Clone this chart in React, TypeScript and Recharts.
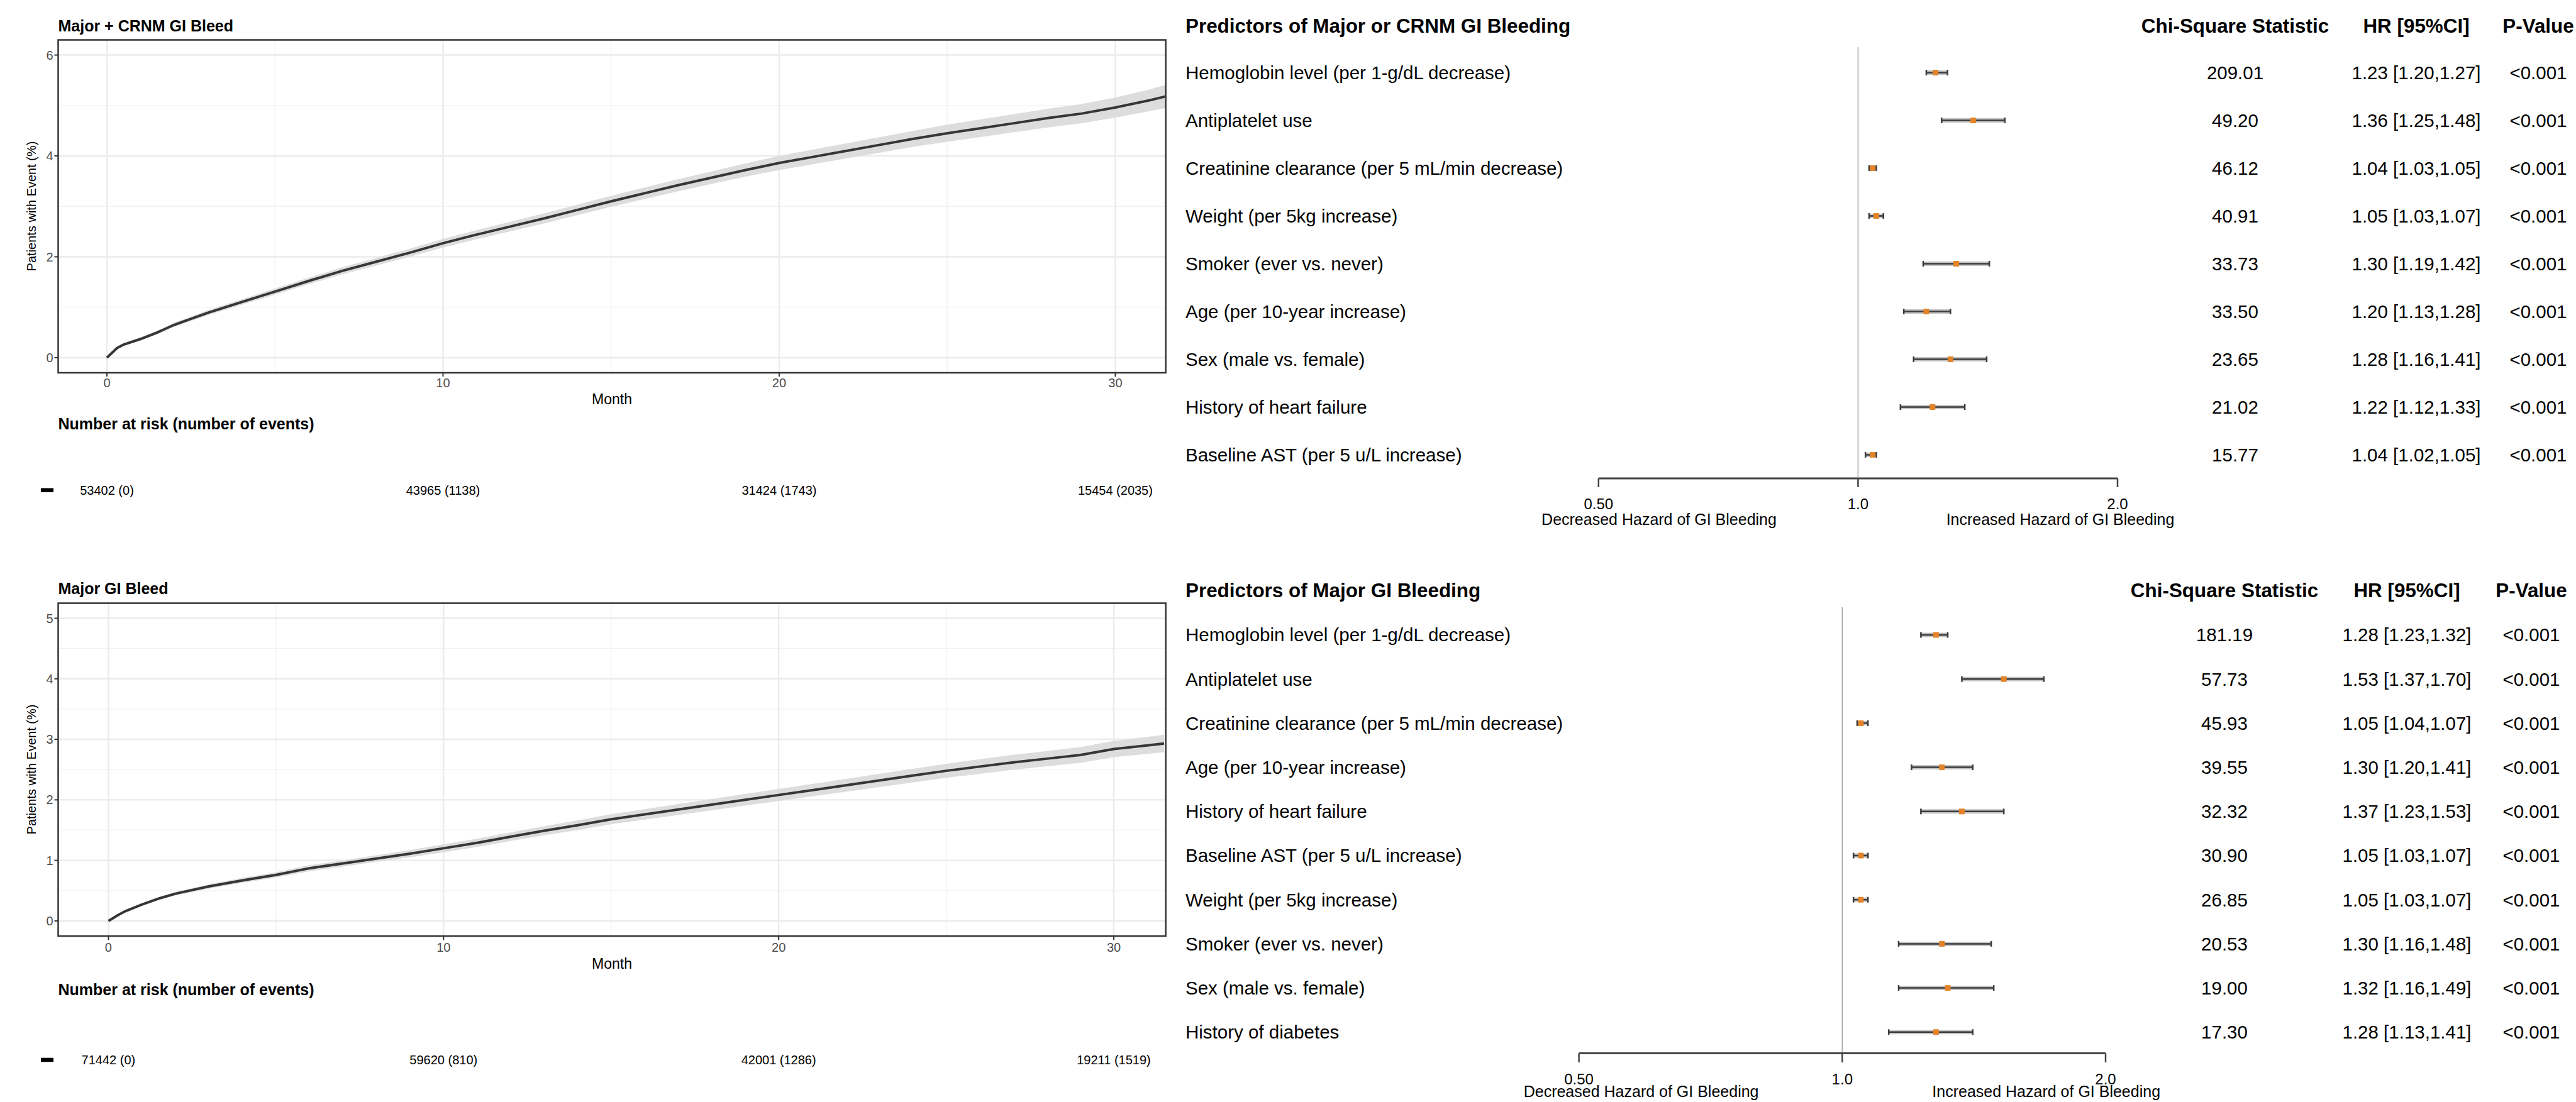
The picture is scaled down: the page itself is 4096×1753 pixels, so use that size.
import React from "react";
import {
  ComposedChart,
  Area,
  Line,
  XAxis,
  YAxis,
  CartesianGrid,
  ReferenceArea,
  ScatterChart,
  Scatter,
  ErrorBar,
  ReferenceLine,
} from "recharts";

const FONT = '"Liberation Sans", Arial, Helvetica, sans-serif';
const W = 4096;
const H = 1753;

// cumulative incidence curves (%)
const months = [
  0, 0.3, 0.5, 1, 1.5, 2, 3, 4, 5, 6, 7, 8, 9, 10, 11, 12, 13, 14, 15, 16, 17,
  18, 19, 20, 21, 22, 23, 24, 25, 26, 27, 28, 29, 30, 31, 31.5,
];
const crnmIncidence = [
  0, 0.19, 0.26, 0.37, 0.5, 0.65, 0.89, 1.1, 1.31, 1.52, 1.72, 1.9, 2.08, 2.27,
  2.44, 2.6, 2.76, 2.93, 3.1, 3.26, 3.42, 3.57, 3.72, 3.86, 3.98, 4.1, 4.22,
  4.34, 4.45, 4.55, 4.65, 4.75, 4.84, 4.96, 5.1, 5.18,
];
const crnmCiHalf = [
  0, 0.02, 0.025, 0.03, 0.035, 0.04, 0.05, 0.055, 0.06, 0.065, 0.07, 0.075,
  0.08, 0.085, 0.09, 0.095, 0.1, 0.105, 0.11, 0.115, 0.12, 0.125, 0.13, 0.14,
  0.145, 0.15, 0.155, 0.16, 0.17, 0.175, 0.18, 0.185, 0.19, 0.2, 0.215, 0.23,
];
const majorIncidence = [
  0, 0.1, 0.16, 0.27, 0.37, 0.45, 0.57, 0.67, 0.76, 0.87, 0.95, 1.03, 1.11, 1.2,
  1.29, 1.39, 1.49, 1.58, 1.68, 1.76, 1.84, 1.92, 2.0, 2.08, 2.16, 2.24, 2.32,
  2.4, 2.48, 2.55, 2.62, 2.68, 2.74, 2.84, 2.9, 2.93,
];
const majorCiHalf = [
  0, 0.01, 0.015, 0.02, 0.025, 0.03, 0.035, 0.04, 0.045, 0.05, 0.052, 0.055,
  0.06, 0.065, 0.068, 0.07, 0.075, 0.08, 0.083, 0.086, 0.09, 0.093, 0.096, 0.1,
  0.103, 0.106, 0.11, 0.113, 0.116, 0.12, 0.123, 0.126, 0.13, 0.135, 0.14, 0.145,
];

const monthTicks = [0, 10, 20, 30];
const monthMinor = [5, 15, 25];
const crnmRisk = ["53402 (0)", "43965 (1138)", "31424 (1743)", "15454 (2035)"];
const majorRisk = ["71442 (0)", "59620 (810)", "42001 (1286)", "19211 (1519)"];

// forest plot rows
const crnmLabels = [
  "Hemoglobin level (per 1-g/dL decrease)",
  "Antiplatelet use",
  "Creatinine clearance (per 5 mL/min decrease)",
  "Weight (per 5kg increase)",
  "Smoker (ever vs. never)",
  "Age (per 10-year increase)",
  "Sex (male vs. female)",
  "History of heart failure",
  "Baseline AST (per 5 u/L increase)",
];
const crnmChi = [209.01, 49.2, 46.12, 40.91, 33.73, 33.5, 23.65, 21.02, 15.77];
const crnmHr = [1.23, 1.36, 1.04, 1.05, 1.3, 1.2, 1.28, 1.22, 1.04];
const crnmLo = [1.2, 1.25, 1.03, 1.03, 1.19, 1.13, 1.16, 1.12, 1.02];
const crnmHi = [1.27, 1.48, 1.05, 1.07, 1.42, 1.28, 1.41, 1.33, 1.05];

const majorLabels = [
  "Hemoglobin level (per 1-g/dL decrease)",
  "Antiplatelet use",
  "Creatinine clearance (per 5 mL/min decrease)",
  "Age (per 10-year increase)",
  "History of heart failure",
  "Baseline AST (per 5 u/L increase)",
  "Weight (per 5kg increase)",
  "Smoker (ever vs. never)",
  "Sex (male vs. female)",
  "History of diabetes",
];
const majorChi = [181.19, 57.73, 45.93, 39.55, 32.32, 30.9, 26.85, 20.53, 19.0, 17.3];
const majorHr = [1.28, 1.53, 1.05, 1.3, 1.37, 1.05, 1.05, 1.3, 1.32, 1.28];
const majorLo = [1.23, 1.37, 1.04, 1.2, 1.23, 1.03, 1.03, 1.16, 1.16, 1.13];
const majorHi = [1.32, 1.7, 1.07, 1.41, 1.53, 1.07, 1.07, 1.48, 1.49, 1.41];

const hrTicks = [0.5, 1, 2];

function KmPanel({ incidence, ciHalf, risk, top, height, marginTop, xHeight, riskOffset, yDomain, yMajor, yMinor, xDomain, tickMargin }: any) {
  const data = months.map((m, i) => ({
    month: m,
    inc: incidence[i],
    band: [incidence[i] - ciHalf[i], incidence[i] + ciHalf[i]],
  }));
  // month tick label, plus the number-at-risk entry under the same tick
  const MonthTick = (p: any) => {
    const v = p.payload.value;
    return (
      <g>
        <text x={p.x} y={p.y} dy="0.71em" textAnchor="middle" fontSize={20} fontFamily={FONT} fill="#4d4d4d">
          {v}
        </text>
        <text x={p.x} y={p.y + riskOffset} dy="0.35em" textAnchor="middle" fontSize={20} fontFamily={FONT} fill="#000">
          {risk[monthTicks.indexOf(v)]}
        </text>
      </g>
    );
  };
  return (
    <div style={{ position: "absolute", left: 0, top, width: 1900, height }}>
      <ComposedChart
        width={1900}
        height={height}
        data={data}
        margin={{ top: marginTop, right: 46.4, bottom: 0, left: 0 }}
      >
        <CartesianGrid horizontalValues={yMinor} verticalValues={monthMinor} stroke="#f2f2f2" strokeWidth={1.3} />
        <CartesianGrid horizontalValues={yMajor} verticalValues={monthTicks} stroke="#ebebeb" strokeWidth={2.4} />
        <XAxis
          type="number"
          dataKey="month"
          domain={xDomain}
          allowDataOverflow
          ticks={monthTicks}
          interval={0}
          height={xHeight}
          tickSize={6}
          tickMargin={tickMargin}
          axisLine={false}
          tickLine={{ stroke: "#333", strokeWidth: 2 }}
          tick={MonthTick}
        />
        <YAxis
          type="number"
          domain={yDomain}
          allowDataOverflow
          ticks={yMajor}
          interval={0}
          width={92.5}
          tickSize={6}
          tickMargin={2}
          axisLine={false}
          tickLine={{ stroke: "#333", strokeWidth: 2 }}
          tick={{ fill: "#4d4d4d", fontSize: 20, fontFamily: FONT }}
        />
        <Area type="linear" dataKey="band" stroke="none" fill="#dddddd" fillOpacity={1} isAnimationActive={false} />
        <Line type="linear" dataKey="inc" stroke="#363636" strokeWidth={4} dot={false} isAnimationActive={false} />
        <ReferenceArea
          x1={xDomain[0]}
          x2={xDomain[1]}
          y1={yDomain[0]}
          y2={yDomain[1]}
          fill="none"
          stroke="#333"
          strokeWidth={2.5}
          ifOverflow="visible"
        />
      </ComposedChart>
    </div>
  );
}

const Square = (p: any) => (
  <rect x={p.cx - 4.5} y={p.cy - 4.5} width={9} height={9} fill="#E3842A" />
);

function ForestPanel({ labels, chi, hr, lo, hi, top, height, plotTop, axisY, rowDomain, xLeft, xRight, cols, tickSize, tickMargin }: any) {
  const data = labels.map((_: string, i: number) => ({
    row: i,
    hr: hr[i],
    err: [hr[i] - lo[i], hi[i] - hr[i]],
  }));
  const rowTicks = labels.map((_: string, i: number) => i);
  const RowTick = (p: any) => {
    const i = p.payload.value;
    const common = { y: p.y, dy: "0.35em", fontSize: 29.5, fontFamily: FONT, fill: "#000" };
    return (
      <g>
        <text x={1885} textAnchor="start" {...common}>{labels[i]}</text>
        <text x={cols[0]} textAnchor="middle" {...common}>{chi[i].toFixed(2)}</text>
        <text x={cols[1]} textAnchor="middle" {...common}>
          {`${hr[i].toFixed(2)} [${lo[i].toFixed(2)},${hi[i].toFixed(2)}]`}
        </text>
        <text x={cols[2]} textAnchor="middle" {...common}>{"<0.001"}</text>
      </g>
    );
  };
  return (
    <div style={{ position: "absolute", left: 0, top, width: W, height }}>
      <ScatterChart
        width={W}
        height={height}
        margin={{ top: plotTop - top, right: W - xRight, bottom: 0, left: 0 }}
      >
        <XAxis
          type="number"
          dataKey="hr"
          scale="log"
          domain={[0.5, 2]}
          allowDataOverflow
          ticks={hrTicks}
          interval={0}
          height={top + height - axisY}
          tickSize={tickSize}
          tickMargin={tickMargin}
          axisLine={{ stroke: "#444", strokeWidth: 3 }}
          tickLine={{ stroke: "#444", strokeWidth: 2.5 }}
          tick={{ fill: "#000", fontSize: 24, fontFamily: FONT }}
          tickFormatter={(v: number) => (v === 0.5 ? "0.50" : v.toFixed(1))}
        />
        <YAxis
          type="number"
          dataKey="row"
          domain={rowDomain}
          reversed
          allowDataOverflow
          ticks={rowTicks}
          interval={0}
          width={xLeft}
          axisLine={false}
          tickLine={false}
          tick={RowTick}
        />
        <ReferenceLine x={1} stroke="#a8a8a8" strokeWidth={1.5} />
        <Scatter data={data} isAnimationActive={false} shape={Square}>
          <ErrorBar dataKey="err" direction="x" width={0} stroke="#c4c4c4" strokeWidth={7} />
          <ErrorBar dataKey="err" direction="x" width={4.5} stroke="#3c3c3c" strokeWidth={2.5} />
        </Scatter>
      </ScatterChart>
    </div>
  );
}

function T({ x, y, size, bold, anchor = "start", rotate, children }: any) {
  return (
    <text
      x={x}
      y={y}
      fontSize={size}
      fontWeight={bold ? 700 : 400}
      textAnchor={anchor}
      dominantBaseline="central"
      fontFamily={FONT}
      fill="#000"
      transform={rotate ? `rotate(-90 ${x} ${y})` : undefined}
    >
      {children}
    </text>
  );
}

export default function App() {
  return (
    <div
      style={{
        position: "absolute",
        left: 0,
        top: 0,
        width: W,
        height: H,
        overflow: "hidden",
        background: "#fff",
        fontFamily: FONT,
      }}
    >
      <KmPanel
        incidence={crnmIncidence}
        ciHalf={crnmCiHalf}
        risk={crnmRisk}
        top={0}
        height={820}
        marginTop={63.5}
        xHeight={227}
        riskOffset={177.7}
        yDomain={[-0.3, 6.3]}
        yMajor={[0, 2, 4, 6]}
        yMinor={[1, 3, 5]}
        xDomain={[-1.45, 31.5]}
        tickMargin={3}
      />
      <KmPanel
        incidence={majorIncidence}
        ciHalf={majorCiHalf}
        risk={majorRisk}
        top={880}
        height={873}
        marginTop={79.4}
        xHeight={264}
        riskOffset={186}
        yDomain={[-0.25, 5.25]}
        yMajor={[0, 1, 2, 3, 4, 5]}
        yMinor={[0.5, 1.5, 2.5, 3.5, 4.5]}
        xDomain={[-1.5, 31.55]}
        tickMargin={5}
      />
      <ForestPanel
        labels={crnmLabels}
        chi={crnmChi}
        hr={crnmHr}
        lo={crnmLo}
        hi={crnmHi}
        top={0}
        height={876}
        plotTop={75}
        axisY={761}
        rowDomain={[-0.533, 8.493]}
        xLeft={2541.8}
        xRight={3367}
        cols={[3554, 3842, 4036]}
        tickSize={14}
        tickMargin={18}
      />
      <ForestPanel
        labels={majorLabels}
        chi={majorChi}
        hr={majorHr}
        lo={majorLo}
        hi={majorHi}
        top={880}
        height={873}
        plotTop={966}
        axisY={1675.5}
        rowDomain={[-0.627, 9.48]}
        xLeft={2510.6}
        xRight={3348}
        cols={[3537, 3827, 4025]}
        tickSize={14.5}
        tickMargin={18}
      />
      <svg
        width={W}
        height={H}
        style={{ position: "absolute", left: 0, top: 0, pointerEvents: "none" }}
      >
        {/* KM: Major + CRNM */}
        <T x={92.5} y={41} size={25} bold>Major + CRNM GI Bleed</T>
        <T x={50} y={328} size={20} anchor="middle" rotate>Patients with Event (%)</T>
        <T x={973} y={635} size={23} anchor="middle">Month</T>
        <T x={92.5} y={674} size={25} bold>Number at risk (number of events)</T>
        <rect x={65} y={776.5} width={20} height={6.5} fill="#000" />

        {/* KM: Major */}
        <T x={92.5} y={936} size={25} bold>Major GI Bleed</T>
        <T x={50} y={1224} size={20} anchor="middle" rotate>Patients with Event (%)</T>
        <T x={973} y={1533} size={23} anchor="middle">Month</T>
        <T x={92.5} y={1574} size={25} bold>Number at risk (number of events)</T>
        <rect x={65} y={1682.7} width={20} height={6.5} fill="#000" />

        {/* forest: Major or CRNM */}
        <T x={1885} y={41.8} size={31.4} bold>Predictors of Major or CRNM GI Bleeding</T>
        <T x={3554} y={41.3} size={31.4} bold anchor="middle">Chi-Square Statistic</T>
        <T x={3842} y={41.3} size={31.4} bold anchor="middle">HR [95%CI]</T>
        <T x={4036} y={41.3} size={31.4} bold anchor="middle">P-Value</T>
        <T x={2638} y={826} size={25} anchor="middle">Decreased Hazard of GI Bleeding</T>
        <T x={3276} y={826} size={25} anchor="middle">Increased Hazard of GI Bleeding</T>

        {/* forest: Major */}
        <T x={1885} y={939} size={31.4} bold>Predictors of Major GI Bleeding</T>
        <T x={3537} y={939} size={31.4} bold anchor="middle">Chi-Square Statistic</T>
        <T x={3827} y={939} size={31.4} bold anchor="middle">HR [95%CI]</T>
        <T x={4025} y={939} size={31.4} bold anchor="middle">P-Value</T>
        <T x={2609.6} y={1736} size={25} anchor="middle">Decreased Hazard of GI Bleeding</T>
        <T x={3253.7} y={1736} size={25} anchor="middle">Increased Hazard of GI Bleeding</T>
      </svg>
    </div>
  );
}
